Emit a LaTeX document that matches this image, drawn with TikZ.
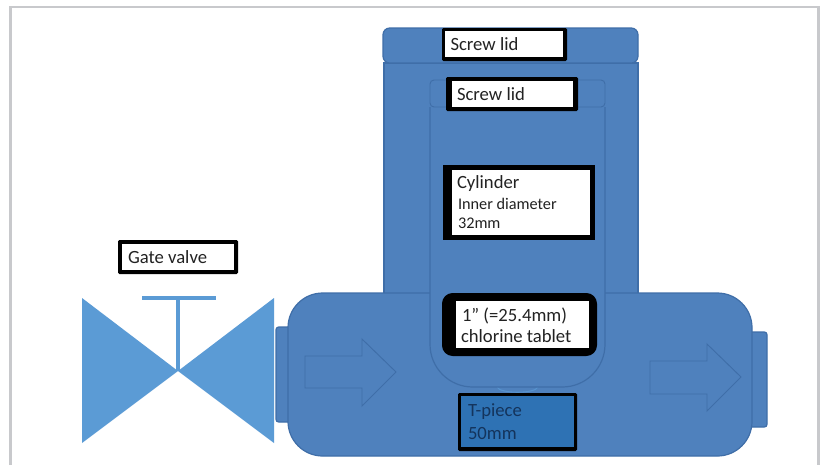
\documentclass[tikz,border=0pt]{standalone}
\usepackage{fontspec}
\setmainfont{Carlito}
\definecolor{bodyblue}{HTML}{4F81BD}
\definecolor{edgeblue}{HTML}{3F6EA8}
\definecolor{valveblue}{HTML}{5B9BD5}
\definecolor{tpiece}{HTML}{2E72B4}
\definecolor{framegray}{HTML}{C8C9CC}
\definecolor{inktext}{HTML}{222222}
\definecolor{darktext}{HTML}{14345C}
\tikzset{
  part/.style={fill=bodyblue,draw=edgeblue,line width=0.9pt},
  thin part/.style={draw=edgeblue,line width=0.7pt},
  lbl/.style={anchor=base west,inner sep=0pt,outer sep=0pt,text=inktext,font=\fontsize{14pt}{16pt}\selectfont},
  small lbl/.style={lbl,font=\fontsize{12.2pt}{14pt}\selectfont},
}
\begin{document}
\begin{tikzpicture}[x=0.75pt,y=-0.75pt]
\useasboundingbox (0,0) rectangle (824,465);
\fill[white] (0,0) rectangle (824,465);
% page frame
\draw[framegray,line width=2.2pt] (10.5,465) -- (10.5,7) -- (818.5,7) -- (818.5,465);
% gate valve
\fill[valveblue] (82,298) -- (178,371) -- (82,443) -- cycle;
\fill[valveblue] (274,298) -- (178,371) -- (274,443) -- cycle;
\draw[valveblue,line width=3pt] (178,298) -- (178,371);
\draw[valveblue,line width=3pt] (142,298) -- (216,298);
% flanges
\draw[part,rounded corners=2pt] (288,327) -- (276,327) -- (276,422) -- (288,422);
\draw[part,rounded corners=2pt] (752,332) -- (767,332) -- (767,427) -- (752,427);
% outer cylinder
\draw[part] (384,300) -- (384,63) -- (638,63) -- (638,300) -- cycle;
% outer lid
\draw[part,rounded corners=5pt] (383,63) -- (383,28) -- (638,28) -- (638,63) -- cycle;
% T body
\draw[part,rounded corners=26pt] (288,293) rectangle (752,456);
% small bump
\draw[draw=valveblue!70!bodyblue,line width=0.8pt,fill=bodyblue] (497,387) .. controls (500,394) and (535,394) .. (538,387);
% inner cylinder
\draw[part,rounded corners=32pt] (430,107) -- (430,387) -- (605,387) -- (605,107);
\draw[thin part,rounded corners=3pt] (430,107) -- (430,80) -- (605,80) -- (605,107) -- cycle;
% arrows
\draw[thin part] (305,356) -- (362,356) -- (362,339) -- (396,372) -- (362,406) -- (362,388) -- (305,388) -- cycle;
\draw[thin part] (650,361) -- (707,361) -- (707,344) -- (741,377) -- (707,411) -- (707,394) -- (650,394) -- cycle;
% label boxes
\fill[black,rounded corners=1pt] (442,28) rectangle (567,61);
\fill[white] (445,31) rectangle (563,57);
\fill[black,rounded corners=1pt] (446,77) rectangle (578,111);
\fill[white] (452,81) rectangle (573,107);
\fill[black] (443,165) rectangle (595,240);
\fill[white] (452,170) rectangle (590,235);
\fill[black,rounded corners=8pt] (442,293) rectangle (597,356);
\fill[white] (456,301) rectangle (589,348);
\fill[black,rounded corners=1pt] (458,393) rectangle (577,451);
\fill[tpiece] (461,396) rectangle (574,447);
\fill[black,rounded corners=1pt] (118,240) rectangle (238,274);
\fill[white] (122,244) rectangle (234,270);
% labels
\node[lbl] (lidA) at (450.5,50) {Screw lid};
\node[lbl] (lidB) at (457,100) {Screw lid};
\node[lbl] (cyl) at (457,188) {Cylinder};
\node[small lbl] (dia) at (458,209) {Inner diameter};
\node[small lbl] (mm) at (458,228) {32mm};
\node[lbl] (tabA) at (462,321) {1” (=25.4mm)};
\node[lbl] (tabB) at (461,342) {chlorine tablet};
\node[lbl,text=darktext] (teeA) at (468,416) {T-piece};
\node[lbl,text=darktext] (teeB) at (468,439) {50mm};
\node[lbl] (gate) at (128,263) {Gate valve};
\end{tikzpicture}
\end{document}
